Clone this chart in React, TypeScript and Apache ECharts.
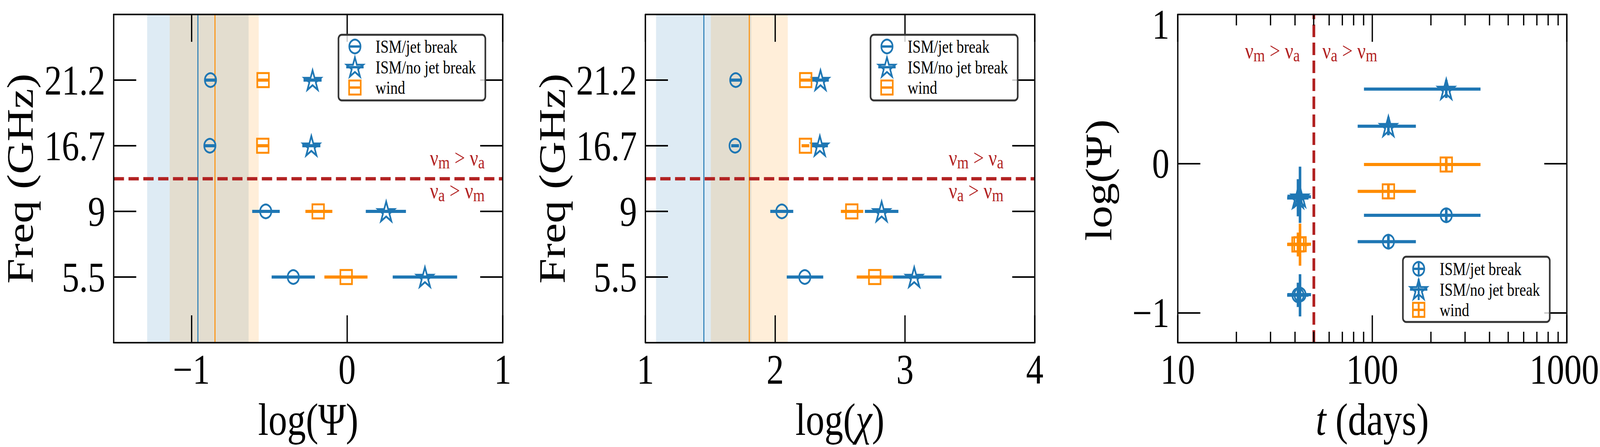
import React, { useEffect, useRef } from 'react';
import * as echarts from 'echarts';

// ---------------- data ----------------
const freqLabels = ['5.5', '9', '16.7', '21.2'];
const seriesNames = ['ISM/jet break', 'ISM/no jet break', 'wind'];

// Panel 1: log(Psi) per frequency (value, lower, upper)
const psiJet = [-0.346, -0.523, -0.882, -0.878];
const psiJetLo = [-0.485, -0.61, -0.921, -0.917];
const psiJetHi = [-0.207, -0.433, -0.843, -0.839];
const psiNoJet = [0.5, 0.251, -0.23, -0.222];
const psiNoJetLo = [0.293, 0.12, -0.288, -0.28];
const psiNoJetHi = [0.707, 0.378, -0.172, -0.164];
const psiWind = [-0.006, -0.186, -0.542, -0.54];
const psiWindLo = [-0.146, -0.268, -0.582, -0.58];
const psiWindHi = [0.131, -0.095, -0.502, -0.5];

// Panel 2: log(chi) per frequency
const chiJet = [2.228, 2.051, 1.691, 1.696];
const chiJetLo = [2.089, 1.962, 1.661, 1.649];
const chiJetHi = [2.37, 2.139, 1.721, 1.743];
const chiNoJet = [3.071, 2.82, 2.344, 2.349];
const chiNoJetLo = [2.906, 2.691, 2.282, 2.285];
const chiNoJetHi = [3.281, 2.949, 2.406, 2.413];
const chiWind = [2.767, 2.59, 2.233, 2.235];
const chiWindLo = [2.628, 2.506, 2.203, 2.196];
const chiWindHi = [2.906, 2.678, 2.263, 2.274];

// Panel 3: epoch (days) per frequency, log(Psi) with its own errors
const tDays = [240, 121, 41.5, 42.5];
const tDaysLo = [90.6, 84.1, 36.5, 36.6];
const tDaysHi = [360, 167.5, 47.0, 48.4];
const psiJetYLo = [-0.394, -0.57, -0.961, -1.024];
const psiJetYHi = [-0.304, -0.48, -0.798, -0.741];
const psiNoJetYLo = [0.44, 0.19, -0.353, -0.397];
const psiNoJetYHi = [0.56, 0.31, -0.104, -0.02];
const psiWindYLo = [-0.051, -0.231, -0.622, -0.684];
const psiWindYHi = [0.039, -0.141, -0.462, -0.402];

// Shaded bands: [lower, centre, upper]
const psiBandJet = [-1.285, -0.959, -0.633];
const psiBandWind = [-1.14, -0.854, -0.568];
const chiBandJet = [1.082, 1.449, 1.816];
const chiBandWind = [1.504, 1.801, 2.097];

const regimeFreqBoundary = 1.5; // between 9 and 16.7 GHz rows
const regimeTimeBoundary = 50; // days

// Ticks
const psiTicks = [-1, 0, 1];
const chiTicks = [1, 2, 3, 4];
const freqTicks = [0, 1, 2, 3];
const psiTicks3 = [-1, 0, 1];
const minorTickDays = [20, 30, 40, 50, 60, 70, 80, 90, 200, 300, 400, 500, 600, 700, 800, 900];

// ---------------- style ----------------
const BLUE = '#1f77b4';
const ORANGE = '#ff8c00';
const RED = '#b22222';
const FONT = '"Liberation Serif", "DejaVu Serif", serif';
const W = 4968;
const H = 1144;

function starPts(cx: number, cy: number, R: number): number[][] {
  const pts: number[][] = [];
  for (let i = 0; i < 10; i++) {
    const ang = -Math.PI / 2 + (i * Math.PI) / 5;
    const rad = i % 2 ? R * 0.381966 : R;
    pts.push([cx + rad * Math.cos(ang), cy + rad * Math.sin(ang)]);
  }
  return pts;
}
const STAR = 'path://M' + starPts(50, 50, 50).map((p) => p[0].toFixed(2) + ',' + p[1].toFixed(2)).join('L') + 'Z';

const fmtMinus = (v: number) => (v < 0 ? '\u2212' + Math.abs(v) : String(v));
const lineStyleBlack = { color: '#000', width: 4 };

function axisX(grid: number, pos: string, min: number, max: number, ticks: number[] | null, labels: boolean, type = 'value', tickLen = 70, showLine = true, formatter?: any, rich?: any): any {
  const tick: any = { show: true, inside: true, length: tickLen, lineStyle: lineStyleBlack };
  if (ticks) tick.customValues = ticks;
  const label: any = labels
    ? { show: true, margin: 14, fontFamily: FONT, fontSize: 108, color: '#000', formatter: formatter || fmtMinus, rich }
    : { show: false };
  if (labels && ticks) label.customValues = ticks;
  return {
    type, gridIndex: grid, position: pos, min, max, z: 10,
    axisLine: { show: showLine, onZero: false, lineStyle: lineStyleBlack },
    axisTick: tick, axisLabel: label, splitLine: { show: false }, minorTick: { show: false },
  };
}
function axisY(grid: number, pos: string, min: number, max: number, ticks: number[], labels: boolean, formatter: any, rich?: any): any {
  return {
    type: 'value', gridIndex: grid, position: pos, min, max, z: 10,
    axisLine: { show: true, onZero: false, lineStyle: lineStyleBlack },
    axisTick: { show: true, inside: true, length: 70, lineStyle: lineStyleBlack, customValues: ticks },
    axisLabel: labels
      ? { show: true, customValues: ticks, margin: 26, fontFamily: FONT, fontSize: 108, lineHeight: 70, color: '#000', formatter, rich }
      : { show: false },
    splitLine: { show: false },
  };
}
function bandSeries(xi: number, yi: number, blue: number[], orange: number[] | null, hLine: number | null, vLine: number | null): any {
  const areas: any[] = [];
  const lines: any[] = [];
  if (blue.length) {
    areas.push([{ xAxis: blue[0], itemStyle: { color: 'rgba(31,119,180,0.15)' } }, { xAxis: blue[2] }]);
    lines.push({ xAxis: blue[1], lineStyle: { color: BLUE, width: 3, type: 'solid' } });
  }
  if (orange) {
    areas.push([{ xAxis: orange[0], itemStyle: { color: 'rgba(255,140,0,0.15)' } }, { xAxis: orange[2] }]);
    lines.push({ xAxis: orange[1], lineStyle: { color: ORANGE, width: 3, type: 'solid' } });
  }
  const dash = [32, 14];
  if (hLine !== null) lines.push({ yAxis: hLine, lineStyle: { color: RED, width: 8.5, type: dash } });
  if (vLine !== null) lines.push({ xAxis: vLine, lineStyle: { color: RED, width: 8.5, type: dash } });
  return {
    type: 'line', xAxisIndex: xi, yAxisIndex: yi, data: [], silent: true, z: 1,
    markArea: { silent: true, z: 1, data: areas, label: { show: false } },
    markLine: { silent: true, z: 3, symbol: ['none', 'none'], label: { show: false }, data: lines },
  };
}
function hErr(xi: number, yi: number, vals: number[], lo: number[], hi: number[], color: string): any {
  return {
    type: 'custom', xAxisIndex: xi, yAxisIndex: yi, z: 4, silent: true,
    data: vals.map((v, i) => [v, i, lo[i], hi[i]]),
    encode: { x: 0, y: 1 },
    renderItem: (_p: any, api: any) => {
      const y = api.value(1);
      const a = api.coord([api.value(2), y]);
      const b = api.coord([api.value(3), y]);
      return { type: 'line', shape: { x1: a[0], y1: a[1], x2: b[0], y2: b[1] }, style: { stroke: color, lineWidth: 8, lineCap: 'butt' } };
    },
  };
}
function xyErr(xi: number, yi: number, xs: number[], xlo: number[], xhi: number[], ys: number[], ylo: number[], yhi: number[], color: string): any {
  return {
    type: 'custom', xAxisIndex: xi, yAxisIndex: yi, z: 4, silent: true,
    data: xs.map((x, i) => [x, ys[i], xlo[i], xhi[i], ylo[i], yhi[i]]),
    encode: { x: 0, y: 1 },
    renderItem: (_p: any, api: any) => {
      const x = api.value(0);
      const y = api.value(1);
      const a = api.coord([api.value(2), y]);
      const b = api.coord([api.value(3), y]);
      const c = api.coord([x, api.value(4)]);
      const d = api.coord([x, api.value(5)]);
      const st = { stroke: color, lineWidth: 8, lineCap: 'butt' };
      return {
        type: 'group',
        children: [
          { type: 'line', shape: { x1: a[0], y1: a[1], x2: b[0], y2: b[1] }, style: st },
          { type: 'line', shape: { x1: c[0], y1: c[1], x2: d[0], y2: d[1] }, style: st },
        ],
      };
    },
  };
}
const SYM = [
  { symbol: 'circle', size: 35, color: BLUE },
  { symbol: STAR, size: [52, 50], color: BLUE },
  { symbol: 'rect', size: 36, color: ORANGE },
];
function markers(xi: number, yi: number, data: number[][], s: number): any {
  return {
    type: 'scatter', xAxisIndex: xi, yAxisIndex: yi, z: 6, silent: true, symbol: SYM[s].symbol, symbolSize: SYM[s].size, data,
    itemStyle: { color: 'rgba(0,0,0,0)', borderColor: SYM[s].color, borderWidth: 5, opacity: 1 },
  };
}
function legend(x: number, y: number, w: number, h: number, mx: number, tx: number, rows: number[], cross: boolean): any[] {
  const els: any[] = [
    { type: 'rect', z: 30, shape: { x, y, width: w, height: h, r: 10 }, style: { fill: 'rgba(255,255,255,0.8)', stroke: '#333333', lineWidth: 5 } },
  ];
  const half = [18, 27, 18];
  [0, 1, 2].forEach((i) => {
    const cy = rows[i];
    const color = SYM[i].color;
    els.push({ type: 'line', z: 31, shape: { x1: mx - half[i], y1: cy, x2: mx + half[i], y2: cy }, style: { stroke: color, lineWidth: 6 } });
    if (cross) els.push({ type: 'line', z: 31, shape: { x1: mx, y1: cy - half[i], x2: mx, y2: cy + half[i] }, style: { stroke: color, lineWidth: 6 } });
    if (i === 0) els.push({ type: 'circle', z: 32, shape: { cx: mx, cy, r: 17.5 }, style: { fill: 'none', stroke: color, lineWidth: 5 } });
    if (i === 1) els.push({ type: 'polygon', z: 32, shape: { points: starPts(mx, cy + 2, 27) }, style: { fill: 'none', stroke: color, lineWidth: 5 } });
    if (i === 2) els.push({ type: 'rect', z: 32, shape: { x: mx - 18, y: cy - 18, width: 36, height: 36 }, style: { fill: 'none', stroke: color, lineWidth: 5 } });
    els.push({
      type: 'text', z: 32, x: tx, y: cy,
      style: { text: seriesNames[i], fontFamily: FONT, fontSize: 46, fill: '#000', align: 'left', verticalAlign: 'middle', textAlign: 'left', textVerticalAlign: 'middle' },
    });
  });
  return els;
}
const nuRich = {
  v: { fontSize: 58, fontFamily: FONT, fill: RED },
  s: { fontSize: 46, fontFamily: FONT, fill: RED, verticalAlign: 'top', padding: [24, 0, 0, 0] },
};
function nuText(x: number, y: number, first: string, second: string, align: string): any {
  return {
    type: 'text', z: 32, x, y,
    style: {
      text: `{v|ν}{s|${first}}{v| > ν}{s|${second}}`, rich: nuRich, fill: RED,
      align, verticalAlign: 'middle', textAlign: align, textVerticalAlign: 'middle',
    },
  };
}
const richT = {
  n: { fontFamily: FONT, fontSize: 116, fill: '#000' },
  i: { fontFamily: FONT, fontSize: 116, fill: '#000', fontStyle: 'italic' },
};
function title(x: number, y: number, text: string, rotate: boolean, rich?: any): any {
  return {
    type: 'text', z: 32, x, y, rotation: rotate ? Math.PI / 2 : 0,
    style: {
      text, rich, fontFamily: FONT, fontSize: 116, lineHeight: 108, fill: '#000',
      align: 'center', verticalAlign: 'middle', textAlign: 'center', textVerticalAlign: 'middle',
    },
  };
}

function buildOption(): any {
  const freqFmt = (v: number) => freqLabels[v] ?? '';
  const idx = [0, 1, 2, 3];
  const gridOf = (left: number, width: number) => ({ left, top: 37, width, height: 840, outerBoundsMode: 'none', containLabel: false });
  const minorVals = minorTickDays.map((d) => Math.log10(d));
  const dayFmt = (v: number) => (Math.round(v) === 1000 ? '{m|1000}' : String(Math.round(v)));
  const dayRich = { m: { fontFamily: FONT, fontSize: 108, color: '#000', padding: [0, 16, 0, 0] } };
  const psi3Fmt = (v: number) => (v === 1 ? '{t|1}' : fmtMinus(v));
  const psi3Rich = { t: { fontFamily: FONT, fontSize: 108, lineHeight: 70, color: '#000', padding: [50, 0, 0, 0] } };

  return {
    animation: false,
    backgroundColor: '#ffffff',
    grid: [gridOf(353, 1208), gridOf(2004, 1209), gridOf(3657, 1208)],
    xAxis: [
      axisX(0, 'bottom', -1.5, 1, psiTicks, true),
      axisX(0, 'top', -1.5, 1, psiTicks, false),
      axisX(1, 'bottom', 1, 4, chiTicks, true),
      axisX(1, 'top', 1, 4, chiTicks, false),
      axisX(2, 'bottom', 10, 1000, null, true, 'log', 70, true, dayFmt, dayRich),
      axisX(2, 'top', 10, 1000, null, false, 'log'),
      axisX(2, 'bottom', 1, 3, minorVals, false, 'value', 28, false),
      axisX(2, 'top', 1, 3, minorVals, false, 'value', 28, false),
    ],
    yAxis: [
      axisY(0, 'left', -1, 4, freqTicks, true, freqFmt),
      axisY(0, 'right', -1, 4, freqTicks, false, freqFmt),
      axisY(1, 'left', -1, 4, freqTicks, true, freqFmt),
      axisY(1, 'right', -1, 4, freqTicks, false, freqFmt),
      axisY(2, 'left', -1.2, 1, psiTicks3, true, psi3Fmt, psi3Rich),
      axisY(2, 'right', -1.2, 1, psiTicks3, false, fmtMinus),
    ],
    series: [
      bandSeries(0, 0, psiBandJet, psiBandWind, regimeFreqBoundary, null),
      hErr(0, 0, psiJet, psiJetLo, psiJetHi, BLUE),
      hErr(0, 0, psiNoJet, psiNoJetLo, psiNoJetHi, BLUE),
      hErr(0, 0, psiWind, psiWindLo, psiWindHi, ORANGE),
      markers(0, 0, idx.map((i) => [psiJet[i], i]), 0),
      markers(0, 0, idx.map((i) => [psiNoJet[i], i]), 1),
      markers(0, 0, idx.map((i) => [psiWind[i], i]), 2),

      bandSeries(2, 2, chiBandJet, chiBandWind, regimeFreqBoundary, null),
      hErr(2, 2, chiJet, chiJetLo, chiJetHi, BLUE),
      hErr(2, 2, chiNoJet, chiNoJetLo, chiNoJetHi, BLUE),
      hErr(2, 2, chiWind, chiWindLo, chiWindHi, ORANGE),
      markers(2, 2, idx.map((i) => [chiJet[i], i]), 0),
      markers(2, 2, idx.map((i) => [chiNoJet[i], i]), 1),
      markers(2, 2, idx.map((i) => [chiWind[i], i]), 2),

      bandSeries(4, 4, [], null, null, regimeTimeBoundary),
      xyErr(4, 4, tDays, tDaysLo, tDaysHi, psiJet, psiJetYLo, psiJetYHi, BLUE),
      xyErr(4, 4, tDays, tDaysLo, tDaysHi, psiNoJet, psiNoJetYLo, psiNoJetYHi, BLUE),
      xyErr(4, 4, tDays, tDaysLo, tDaysHi, psiWind, psiWindYLo, psiWindYHi, ORANGE),
      markers(4, 4, idx.map((i) => [tDays[i], psiJet[i]]), 0),
      markers(4, 4, idx.map((i) => [tDays[i], psiNoJet[i]]), 1),
      markers(4, 4, idx.map((i) => [tDays[i], psiWind[i]]), 2),
    ],
    graphic: [
      ...legend(1051, 89, 456, 168, 1102, 1166, [119, 172, 224], false),
      ...legend(2703, 89, 457, 168, 2754, 2818, [119, 172, 224], false),
      ...legend(4356, 657, 456, 167, 4405, 4470, [688, 741, 793], true),
      nuText(1505, 403, 'm', 'a', 'right'),
      nuText(1505, 487, 'a', 'm', 'right'),
      nuText(3116, 403, 'm', 'a', 'right'),
      nuText(3116, 487, 'a', 'm', 'right'),
      nuText(4036, 129, 'm', 'a', 'right'),
      nuText(4106, 129, 'a', 'm', 'left'),
      title(63, 457, 'Freq (GHz)', true),
      title(957, 1074, 'log(Ψ)', false),
      title(1714, 457, 'Freq (GHz)', true),
      title(2608, 1074, '{n|log(}{i|χ}{n|)}', false, richT),
      title(3411, 461, 'log(Ψ)', true),
      title(4261, 1074, '{i|t}{n| (days)}', false, richT),
    ],
  };
}

export default function App() {
  const ref = useRef<HTMLDivElement>(null);
  // The browser viewport may be narrower than the requested picture; scale the whole
  // 4968x1144 drawing to fill the actual viewport.
  const sx = window.innerWidth / W;
  const sy = window.innerHeight / H;
  useEffect(() => {
    if (!ref.current) return;
    const chart = echarts.init(ref.current, null, { renderer: 'svg' });
    chart.setOption(buildOption());
    return () => chart.dispose();
  }, []);
  return (
    <div
      ref={ref}
      style={{ position: 'absolute', left: 0, top: 0, width: W, height: H, transform: `scale(${sx}, ${sy})`, transformOrigin: '0 0' }}
    />
  );
}
